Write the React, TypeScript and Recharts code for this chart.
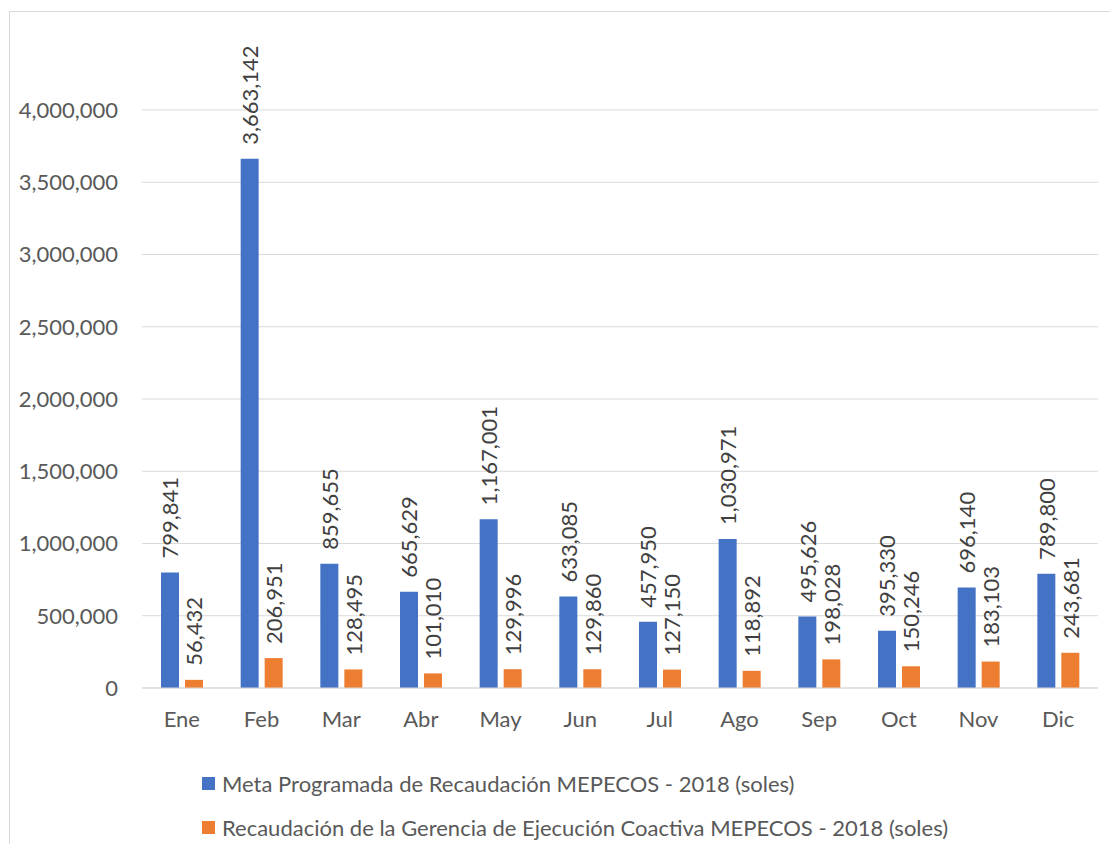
import React from 'react';
import {
  BarChart,
  Bar,
  XAxis,
  YAxis,
  CartesianGrid,
  LabelList
} from 'recharts';

const months = ['Ene', 'Feb', 'Mar', 'Abr', 'May', 'Jun', 'Jul', 'Ago', 'Sep', 'Oct', 'Nov', 'Dic'];
const metaProgramada = [799841, 3663142, 859655, 665629, 1167001, 633085, 457950, 1030971, 495626, 395330, 696140, 789800];
const recaudacionCoactiva = [56432, 206951, 128495, 101010, 129996, 129860, 127150, 118892, 198028, 150246, 183103, 243681];
const yTicks = [0, 500000, 1000000, 1500000, 2000000, 2500000, 3000000, 3500000, 4000000];
const seriesNames = [
  'Meta Programada de Recaudación MEPECOS - 2018 (soles)',
  'Recaudación de la Gerencia de Ejecución Coactiva MEPECOS - 2018 (soles)'
];
const seriesColors = ['#4472C4', '#ED7D31'];

const data = months.map((mes, i) => ({
  mes,
  meta: metaProgramada[i],
  recaudacion: recaudacionCoactiva[i]
}));

const FONT = 'Lato, "Open Sans", sans-serif';
const fmt = (v: number) => Number(v).toLocaleString('en-US');

// vertical value label sitting above each bar
const renderValueLabel = (props: any) => {
  const { x, y, width, value } = props;
  const cx = Number(x) + Number(width) / 2;
  const ty = Number(y) - 14;
  return (
    <text
      x={cx}
      y={ty}
      transform={`rotate(-90 ${cx} ${ty})`}
      textAnchor="start"
      dominantBaseline="central"
      fill="#404040"
      fontSize={22}
      fontFamily={FONT}
    >
      {fmt(value)}
    </text>
  );
};

export default function App() {
  return (
    <div style={{ position: 'relative', width: 1110, height: 844, marginBottom: -8, overflow: 'hidden', fontFamily: FONT }}>
      <div
        style={{
          position: 'absolute',
          left: 1,
          top: 3,
          width: 1130,
          height: 900,
          border: '1px solid #d9d9d9',
          background: '#fff'
        }}
      />
      <div style={{ position: 'absolute', left: 0, top: 0 }}>
        <BarChart
          width={1110}
          height={836}
          data={data}
          margin={{ top: 102, right: 20, bottom: 116, left: 0 }}
          barSize={18}
          barGap={6}
        >
          <CartesianGrid vertical={false} stroke="#d9d9d9" />
          <XAxis
            dataKey="mes"
            height={40}
            tickLine={false}
            tickSize={0}
            tickMargin={23}
            axisLine={{ stroke: '#d9d9d9' }}
            tick={{ fill: '#595959', fontSize: 22, fontFamily: FONT }}
          />
          <YAxis
            width={134}
            domain={[0, 4000000]}
            ticks={yTicks}
            tickFormatter={fmt}
            axisLine={false}
            tickLine={false}
            tickSize={0}
            tickMargin={24}
            tick={{ fill: '#595959', fontSize: 22, fontFamily: FONT }}
          />
          <Bar dataKey="meta" name={seriesNames[0]} fill={seriesColors[0]} isAnimationActive={false}>
            <LabelList dataKey="meta" content={renderValueLabel} />
          </Bar>
          <Bar dataKey="recaudacion" name={seriesNames[1]} fill={seriesColors[1]} isAnimationActive={false}>
            <LabelList dataKey="recaudacion" content={renderValueLabel} />
          </Bar>
        </BarChart>
      </div>
      {seriesNames.map((name, i) => (
        <div
          key={name}
          style={{
            position: 'absolute',
            left: 194,
            top: 760 + i * 44,
            height: 30,
            display: 'flex',
            alignItems: 'center',
            color: '#595959',
            fontSize: 22,
            whiteSpace: 'nowrap'
          }}
        >
          <span style={{ display: 'inline-block', width: 13, height: 13, background: seriesColors[i], marginRight: 7 }} />
          {name}
        </div>
      ))}
    </div>
  );
}
